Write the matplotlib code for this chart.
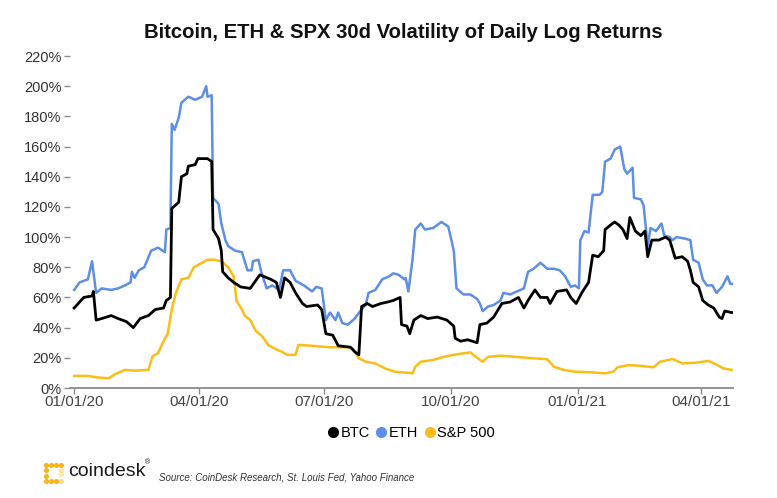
import pandas as pd
import matplotlib
matplotlib.use("Agg")
import matplotlib.pyplot as plt
from matplotlib.lines import Line2D

plt.rcParams['font.family'] = ['Liberation Sans', 'DejaVu Sans']

# days counted from 01/01/2020, values in %
btc_day = [0, 3, 7, 13, 14, 16, 20, 27, 32, 38, 43, 48, 54, 59, 65, 67, 70, 71, 76, 78,
           82, 83, 88, 90, 97, 100, 101, 105, 107, 108, 112, 116, 121, 128, 135, 143, 147,
           150, 153, 157, 161, 166, 169, 177, 180, 183, 188, 192, 201, 204, 207, 209, 213,
           217, 223, 228, 232, 237, 238, 242, 244, 247, 252, 257, 264, 271, 276, 277, 281,
           286, 293, 295, 300, 305, 311, 317, 323, 327, 330, 335, 339, 344, 346, 351, 358,
           361, 365, 369, 374, 377, 381, 385, 386, 390, 393, 396, 399, 402, 404, 408, 412,
           415, 417, 420, 425, 430, 433, 437, 442, 446, 448, 450, 454, 457, 461, 465, 469,
           471, 473, 478, 479]
btc_vol = [53, 56, 60, 61, 64, 45, 46, 48, 46, 44, 40, 46, 48, 52, 53, 58, 60, 119, 123, 140,
           142, 147, 148, 152, 152, 150, 105, 99, 91, 77, 73, 70, 67, 66, 75, 72, 70,
           60, 73, 70, 63, 56, 54, 55, 52, 36, 35, 28, 27, 24, 22, 54, 56,
           54, 56, 57, 58, 60, 42, 41, 36, 45, 48, 46, 47, 45, 41, 33, 31,
           32, 30, 42, 43, 47, 56, 57, 60, 53, 58, 65, 60, 60, 56, 64, 65,
           60, 56, 63, 70, 88, 87, 91, 105, 108, 110, 108, 105, 99, 113, 104, 101,
           104, 87, 98, 98, 100, 98, 86, 87, 84, 78, 70, 67, 58, 55, 53, 47,
           46, 51, 50, 50]

eth_day = [0, 4, 10, 13, 15, 16, 20, 27, 32, 37, 41, 42, 44, 47, 51, 56, 61, 66, 67, 70,
           71, 73, 76, 78, 83, 88, 93, 96, 97, 100, 101, 105, 107, 110, 112, 117, 122, 126,
           129, 130, 134, 136, 140, 144, 149, 152, 157, 161, 167, 173, 176, 180, 183, 186,
           190, 192, 195, 199, 204, 208, 212, 214, 219, 224, 229, 232, 236, 240, 241, 243,
           246, 248, 252, 255, 261, 267, 272, 276, 278, 283, 288, 293, 295, 297, 301, 305,
           310, 312, 317, 322, 327, 330, 334, 339, 344, 349, 353, 357, 361, 364, 367, 368,
           371, 374, 377, 382, 384, 386, 390, 393, 397, 400, 402, 406, 407, 412, 414, 417,
           419, 423, 427, 429, 433, 435, 438, 444, 448, 450, 454, 457, 460, 464, 467, 471,
           475, 477, 479]
eth_vol = [65, 70, 72, 84, 70, 63, 66, 65, 66, 68, 70, 77, 73, 78, 80, 91, 93, 90, 105, 106,
           175, 171, 179, 189, 193, 191, 193, 200, 193, 194, 126, 122, 109, 98, 94, 91, 90, 78,
           78, 84, 85, 77, 66, 68, 65, 78, 78, 71, 68, 64, 67, 66, 45, 50,
           45, 50, 43, 42, 46, 51, 55, 63, 65, 72, 74, 76, 75, 72, 73, 64,
           85, 105, 109, 105, 106, 110, 107, 91, 66, 62, 62, 59, 56, 51, 54, 55,
           58, 63, 62, 64, 66, 77, 79, 83, 79, 79, 78, 74, 67, 68, 66, 98,
           104, 103, 128, 128, 130, 150, 152, 158, 160, 145, 142, 146, 126, 125, 121, 94,
           106, 104, 109, 101, 100, 98, 100, 99, 98, 85, 83, 72, 68, 68, 63, 67,
           74, 69, 69]

spx_day = [0, 10, 17, 25, 30, 37, 44, 54, 57, 61, 65, 68, 71, 74, 78, 83, 87, 93, 97, 102,
           107, 112, 116, 118, 122, 124, 128, 132, 137, 141, 146, 151, 155, 161, 163, 173,
           185, 199, 203, 207, 212, 219, 226, 233, 244, 246, 248, 252, 261, 269, 278, 288,
           292, 297, 301, 310, 320, 334, 344, 349, 356, 364, 376, 386, 392, 395, 403, 413,
           421, 426, 435, 442, 452, 461, 466, 472, 478]
spx_vol = [8, 8, 7, 6.4, 9.3, 12, 11.5, 12, 21, 23, 31, 36, 52, 63, 72, 73, 80, 83, 85, 85,
           84, 80, 74, 58, 52, 48, 45, 38, 34, 28.5, 26, 24, 22, 22, 28.5, 28,
           27, 27, 25.6, 19.7, 17.4, 16.3, 13, 10.8, 10, 9.7, 14, 17.4, 18.6, 20.7, 22.3, 23.6,
           20.7, 17.4, 20.7, 21.4, 20.7, 19.7, 19, 14, 12, 10.8, 10.4, 9.7, 10.8, 13.7, 15.2, 14.6,
           13.7, 17.4, 19.2, 16.3, 16.8, 17.9, 16, 13, 12]

tick_dates = ["2020-01-01", "2020-04-01", "2020-07-01", "2020-10-01", "2021-01-01", "2021-04-01"]
tick_labels = ["01/01/20", "04/01/20", "07/01/20", "10/01/20", "01/01/21", "04/01/21"]

start = pd.Timestamp("2020-01-01")
def to_dates(days):
    return start + pd.to_timedelta(days, unit="D")

c_btc = "#000000"
c_eth = "#5d8fe6"
c_spx = "#fbbd16"

fig = plt.figure(figsize=(7.77, 4.98), dpi=100)
ax = fig.add_axes([70 / 777, 1 - 388 / 498, (733 - 70) / 777, (388 - 56) / 498])

ax.plot(to_dates(spx_day), spx_vol, color=c_spx, lw=1.8)
ax.plot(to_dates(eth_day), eth_vol, color=c_eth, lw=1.8)
ax.plot(to_dates(btc_day), btc_vol, color=c_btc, lw=2.0)

ax.set_xlim(start - pd.Timedelta(days=3), start + pd.Timedelta(days=479))
ax.set_ylim(0, 220)
ax.set_yticks(range(0, 221, 20))
ax.set_yticklabels([f"{v}%" for v in range(0, 221, 20)])
ax.set_xticks(pd.to_datetime(tick_dates))
ax.set_xticklabels(tick_labels)

for s in ["top", "right", "left"]:
    ax.spines[s].set_visible(False)
ax.spines["bottom"].set_color("#8a8a8a")
ax.spines["bottom"].set_linewidth(1.3)
ax.tick_params(axis="y", length=4, width=1, color="#8a8a8a", pad=2, labelsize=10.5, labelcolor="#333333")
ax.tick_params(axis="x", length=4, width=1, color="#8a8a8a", pad=1, labelsize=11, labelcolor="#444444")

fig.text(403 / 777, 1 - 32 / 498, "Bitcoin, ETH & SPX 30d Volatility of Daily Log Returns",
         ha="center", va="center", fontsize=14.6, fontweight="bold", color="#111111")

handles = [Line2D([], [], ls="none", marker="o", ms=7, color=c) for c in (c_btc, c_eth, c_spx)]
fig.legend(handles, ["BTC", "ETH", "S&P 500"], loc="center", bbox_to_anchor=(412 / 777, 1 - 433 / 498),
           ncol=3, frameon=False, fontsize=10.5, handlelength=0.5, handletextpad=0.25, columnspacing=0.55)

# coindesk logo
logo = fig.add_axes([43 / 777, 1 - 484 / 498, 21 / 777, 22 / 498])
logo.set_xlim(-0.5, 3.5)
logo.set_ylim(-0.5, 3.5)
logo.axis("off")
dots_x = [0, 0, 0, 0, 1, 2, 3, 1, 2, 3, 3, 3]
dots_y = [0, 1, 2, 3, 3, 3, 3, 0, 0, 0, 1.3, 2]
dots_a = [1, 1, 1, 1, 1, 1, 1, 1, 1, 0.5, 0.35, 0.35]
for dx, dy, a in zip(dots_x, dots_y, dots_a):
    logo.scatter(dx, dy, s=14, color="#f5b51d", alpha=a, lw=0)
fig.text(68 / 777, 1 - 471 / 498, "coindesk", ha="left", va="center", fontsize=14, color="#1a1a1a")
fig.text(145 / 777, 1 - 463 / 498, "®", ha="left", va="center", fontsize=5, color="#1a1a1a")
fig.text(159 / 777, 1 - 478 / 498, "Source: CoinDesk Research, St. Louis Fed, Yahoo Finance",
         ha="left", va="center", fontsize=7, style="italic", color="#333333")

fig.savefig("out.png", dpi=100, facecolor="white")
